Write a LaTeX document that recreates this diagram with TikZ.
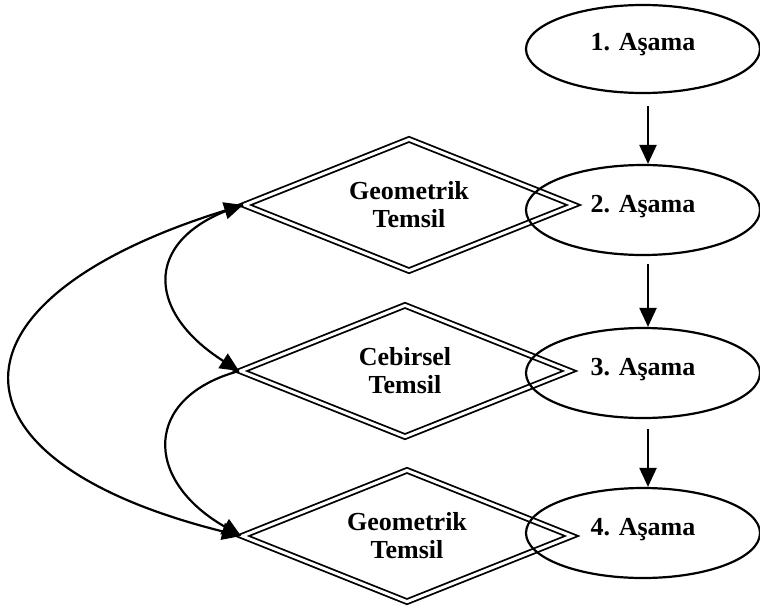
\documentclass[tikz,border=0pt]{standalone}
\usepackage{fontspec}
\setmainfont{Liberation Serif}
\usetikzlibrary{shapes.geometric,arrows.meta}
\begin{document}
\begin{tikzpicture}[x=1pt,y=-1pt,
  every node/.style={font=\bfseries\fontsize{26}{28}\selectfont},
  stage/.style={ellipse,draw,line width=2.2pt,minimum width=234pt,minimum height=90pt,inner sep=0pt,text height=12pt,text depth=8pt},
  repbox/.style={diamond,draw,line width=1.8pt,double,double distance=3pt,shape aspect=2.4,minimum width=330pt,minimum height=132pt,inner sep=0pt,align=center},
  flow/.style={line width=2.2pt,-{Triangle[length=19pt,width=17pt]}},
  link/.style={line width=2.2pt,-{Triangle[length=19pt,width=17pt]}},
  both/.style={line width=2.2pt,{Triangle[length=19pt,width=17pt]}-{Triangle[length=19pt,width=17pt]}}
]
\useasboundingbox (0,0) rectangle (760,610);
% diamonds
\node[repbox] (d1) at (409,205) {Geometrik\\Temsil};
\node[repbox] (d2) at (405,371) {Cebirsel\\Temsil};
\node[repbox] (d3) at (407,536) {Geometrik\\Temsil};
% ellipses
\node[stage,minimum height=88pt] (e1) at (643,49) {1. Aşama};
\node[stage] (e2) at (643,210) {2. Aşama};
\node[stage] (e3) at (643,373) {3. Aşama};
\node[stage] (e4) at (643,533) {4. Aşama};
% vertical arrows
\draw[flow] ([xshift=5pt,yshift=-12pt]e1.south) -- ([xshift=5pt]e2.north);
\draw[flow] ([xshift=5pt,yshift=-8pt]e2.south) -- ([xshift=5pt]e3.north);
\draw[flow] ([xshift=5pt,yshift=-10pt]e3.south) -- ([xshift=5pt]e4.north);
% left curves
\draw[link] (d1.west) .. controls (143,235) and (143,310) .. (d2.west);
\draw[link] (d2.west) .. controls (143,397) and (143,480) .. (d3.west);
\draw[both] (d1.west) .. controls (-64,300) and (-64,460) .. (d3.west);
\end{tikzpicture}
\end{document}
